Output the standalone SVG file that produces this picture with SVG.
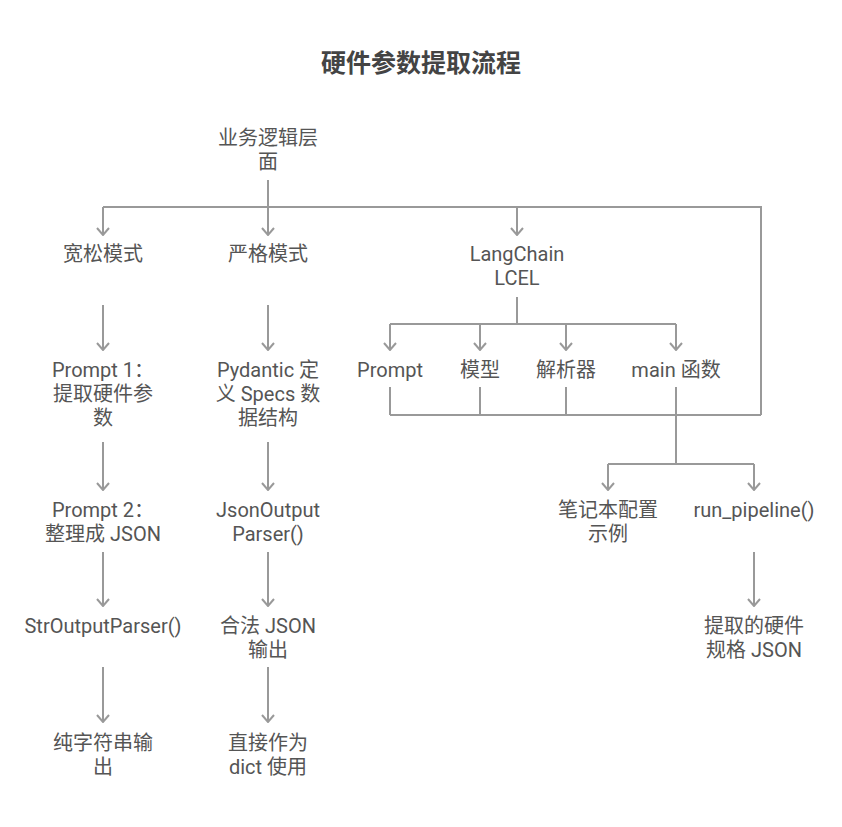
<svg xmlns="http://www.w3.org/2000/svg" width="842" height="827" viewBox="0 0 842 827">
<defs>
<marker id="arr" viewBox="0 0 14 10" refX="7" refY="9" markerWidth="14" markerHeight="10" markerUnits="userSpaceOnUse" orient="0">
<path d="M1,2 L7,9 L13,2" fill="none" stroke="#999" stroke-width="2"/>
</marker>
<style>
.t{font-family:Roboto,"Noto Sans CJK SC",sans-serif;font-size:20px;fill:#555;text-anchor:middle}
.title{font-family:Roboto,"Noto Sans CJK SC",sans-serif;font-size:25px;font-weight:bold;fill:#444;text-anchor:middle}
.c{fill:none;stroke:#999;stroke-width:2}
.a{marker-end:url(#arr)}
</style>
</defs>
<rect width="842" height="827" fill="#fff"/>
<text class="title" x="421" y="72">硬件参数提取流程</text>
<g id="connectors">
<path class="c" d="M268,180 V207 M103,207 H761 V415 M390,415 H761"/>
<path class="c a" d="M103,207 V235"/>
<path class="c a" d="M268,207 V235"/>
<path class="c a" d="M517,207 V235"/>
<path class="c a" d="M103,305 V350"/>
<path class="c a" d="M103,442 V490"/>
<path class="c a" d="M103,552 V606"/>
<path class="c a" d="M103,667 V722"/>
<path class="c a" d="M268,305 V350"/>
<path class="c a" d="M268,442 V490"/>
<path class="c a" d="M268,552 V606"/>
<path class="c a" d="M268,667 V722"/>
<path class="c" d="M517,297 V324 M390,324 H676"/>
<path class="c a" d="M390,324 V350"/>
<path class="c a" d="M480,324 V350"/>
<path class="c a" d="M566,324 V350"/>
<path class="c a" d="M676,324 V350"/>
<path class="c" d="M390,387 V415 M480,387 V415 M566,387 V415 M676,387 V464 M608,464 H754"/>
<path class="c a" d="M608,464 V490"/>
<path class="c a" d="M754,464 V490"/>
<path class="c a" d="M754,552 V606"/>
</g>
<g id="n_top"><text class="t" x="268" y="145">业务逻辑层</text><text class="t" x="268" y="169">面</text></g>
<g id="n_loose"><text class="t" x="103" y="261">宽松模式</text></g>
<g id="n_strict"><text class="t" x="268" y="261">严格模式</text></g>
<g id="n_lc"><text class="t" x="517" y="261">LangChain</text><text class="t" x="517" y="285">LCEL</text></g>
<g id="n_p1"><text class="t" x="103" y="377">Prompt 1：</text><text class="t" x="103" y="401">提取硬件参</text><text class="t" x="103" y="425">数</text></g>
<g id="n_p2"><text class="t" x="103" y="517">Prompt 2：</text><text class="t" x="103" y="541">整理成 JSON</text></g>
<g id="n_sop"><text class="t" x="103" y="633">StrOutputParser()</text></g>
<g id="n_str"><text class="t" x="103" y="750">纯字符串输</text><text class="t" x="103" y="774">出</text></g>
<g id="n_pyd"><text class="t" x="268" y="377">Pydantic 定</text><text class="t" x="268" y="401">义 Specs 数</text><text class="t" x="268" y="425">据结构</text></g>
<g id="n_jop"><text class="t" x="268" y="517">JsonOutput</text><text class="t" x="268" y="541">Parser()</text></g>
<g id="n_json"><text class="t" x="268" y="633">合法 JSON</text><text class="t" x="268" y="657">输出</text></g>
<g id="n_dict"><text class="t" x="268" y="750">直接作为</text><text class="t" x="268" y="774">dict 使用</text></g>
<g id="n_prompt"><text class="t" x="390" y="377">Prompt</text></g>
<g id="n_model"><text class="t" x="480" y="377">模型</text></g>
<g id="n_parser"><text class="t" x="566" y="377">解析器</text></g>
<g id="n_main"><text class="t" x="676" y="377">main 函数</text></g>
<g id="n_nb"><text class="t" x="608" y="517">笔记本配置</text><text class="t" x="608" y="541">示例</text></g>
<g id="n_run"><text class="t" x="754" y="517">run_pipeline()</text></g>
<g id="n_out"><text class="t" x="754" y="633">提取的硬件</text><text class="t" x="754" y="657">规格 JSON</text></g>
</svg>
